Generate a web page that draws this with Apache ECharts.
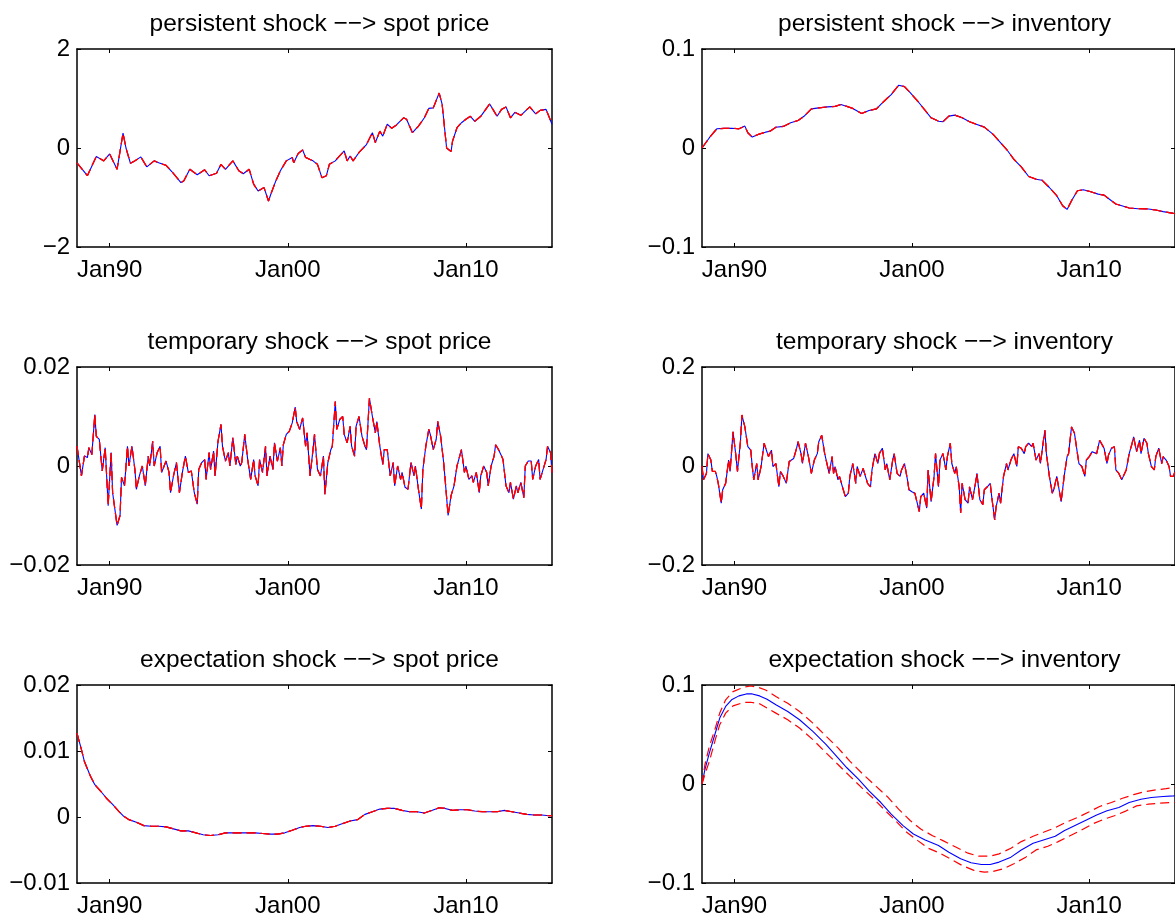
<!DOCTYPE html>
<html>
<head>
<meta charset="utf-8">
<script src="https://cdn.jsdelivr.net/npm/echarts@6/dist/echarts.min.js"></script>
<style>
html,body{margin:0;padding:0;background:#fff;}
#chart{width:1175px;height:921px;}
</style>
</head>
<body>
<div id="chart"></div>
<script>
// x values are months since Jan 1988 (monthly data, Mar 1988 .. Nov 2014)
const xTickMonths = [24, 144, 264];
const xTickLabels = ['Jan90', 'Jan00', 'Jan10'];

const titles = [
  'persistent shock \u2212\u2212> spot price',
  'persistent shock \u2212\u2212> inventory',
  'temporary shock \u2212\u2212> spot price',
  'temporary shock \u2212\u2212> inventory',
  'expectation shock \u2212\u2212> spot price',
  'expectation shock \u2212\u2212> inventory'
];

// y-axis ranges [min, max, interval]
const yRanges = [
  [-2, 2, 2], [-0.1, 0.1, 0.1],
  [-0.02, 0.02, 0.02], [-0.2, 0.2, 0.2],
  [-0.01, 0.02, 0.01], [-0.1, 0.1, 0.1]
];

// median responses [month, value]
const persistSpot = [[2,-0.30],[9,-0.56],[15,-0.17],[20,-0.26],[24,-0.12],[29,-0.43],[33,0.30],[35,0.0],[38,-0.31],[41,-0.26],[45,-0.18],[49,-0.38],[54,-0.26],[57,-0.30],[62,-0.35],[66,-0.48],[72,-0.70],[74,-0.66],[78,-0.43],[83,-0.54],[88,-0.44],[91,-0.56],[96,-0.51],[99,-0.33],[102,-0.43],[107,-0.26],[111,-0.46],[114,-0.52],[118,-0.43],[121,-0.73],[124,-0.87],[128,-0.80],[131,-1.07],[133,-0.90],[136,-0.66],[139,-0.46],[143,-0.26],[147,-0.19],[148,-0.30],[151,-0.11],[154,-0.04],[156,-0.19],[161,-0.26],[164,-0.33],[167,-0.60],[170,-0.56],[172,-0.33],[176,-0.26],[178,-0.19],[182,-0.06],[184,-0.26],[186,-0.16],[188,-0.26],[192,-0.09],[197,0.07],[201,0.31],[203,0.11],[206,0.34],[208,0.24],[211,0.48],[214,0.40],[217,0.46],[222,0.61],[224,0.58],[228,0.31],[232,0.44],[236,0.61],[239,0.80],[242,0.81],[246,1.11],[248,0.88],[251,0.0],[254,-0.07],[255,0.14],[258,0.41],[261,0.51],[264,0.58],[267,0.64],[270,0.54],[274,0.64],[280,0.89],[283,0.74],[285,0.64],[288,0.78],[291,0.83],[294,0.61],[297,0.72],[301,0.66],[307,0.83],[311,0.69],[314,0.76],[318,0.78],[322,0.48]];

const persistInv = [[2,0],[7,0.0104],[12,0.0194],[17,0.0198],[22,0.020],[27,0.0194],[31,0.0221],[33,0.0154],[36,0.011],[40,0.0137],[45,0.016],[48,0.017],[52,0.021],[57,0.0218],[62,0.0255],[67,0.0278],[71,0.032],[76,0.0395],[81,0.0405],[87,0.0415],[92,0.042],[96,0.0439],[100,0.042],[104,0.040],[110,0.0348],[115,0.0379],[120,0.0395],[125,0.047],[130,0.054],[135,0.0633],[139,0.062],[143,0.0556],[148,0.0472],[153,0.0379],[157,0.0305],[162,0.0271],[165,0.0265],[169,0.0322],[173,0.0332],[178,0.0305],[183,0.0265],[188,0.0238],[193,0.0211],[199,0.0137],[203,0.007],[208,-0.0013],[213,-0.0114],[218,-0.019],[223,-0.0288],[228,-0.0315],[232,-0.0325],[237,-0.0399],[242,-0.0482],[246,-0.0583],[249,-0.062],[252,-0.0533],[256,-0.0432],[260,-0.0422],[265,-0.0442],[270,-0.0466],[274,-0.0476],[279,-0.0533],[282,-0.0566],[286,-0.0583],[291,-0.0606],[297,-0.0613],[304,-0.0616],[309,-0.0626],[314,-0.0643],[321,-0.066],[322,-0.0662]];

const tempSpot = [[2,0.004],[3,0.002],[5,-0.002],[7,0.002],[9,0.0017],[10,0.0037],[12,0.0023],[14,0.0104],[15,0.006],[17,0.0054],[19,-0.001],[21,0.0037],[23,-0.008],[25,0.0027],[26,-0.0054],[29,-0.012],[31,-0.010],[32,-0.0023],[34,-0.004],[36,0.004],[37,0],[39,0.004],[41,-0.0007],[42,-0.0047],[44,-0.002],[46,0],[48,-0.004],[50,0.002],[51,0],[53,0.005],[54,0],[56,0.0027],[58,0.004],[59,-0.0013],[62,0.001],[64,-0.0013],[65,-0.0054],[67,-0.002],[69,0.0007],[71,-0.0054],[73,-0.0013],[75,0.002],[77,-0.0013],[79,-0.001],[81,-0.0054],[83,-0.0077],[84,-0.0007],[86,0.0007],[88,0.0013],[89,-0.0027],[91,0.0027],[92,-0.0007],[94,0.003],[95,-0.002],[97,0.005],[99,0.0084],[100,0.004],[102,0.001],[104,0.0027],[105,0],[107,0.0057],[109,0.0003],[110,0.002],[112,0],[113,0.0007],[115,0.0064],[117,0.0013],[119,-0.0027],[121,0.0013],[122,-0.002],[124,-0.004],[125,0.0013],[127,-0.0013],[129,0.004],[130,-0.002],[132,0.002],[134,-0.0007],[135,0.0047],[137,0.001],[139,0.0037],[140,0],[141,0.0043],[143,0.0064],[145,0.007],[147,0.0087],[149,0.0119],[150,0.009],[152,0.0074],[154,0.0097],[156,0.004],[157,0.0067],[159,-0.002],[161,0.0033],[162,0.0064],[164,-0.0007],[166,-0.002],[168,0.002],[169,-0.0057],[171,0.0007],[173,0.0033],[174,0.004],[176,0.013],[177,0.0074],[179,0.0094],[181,0.01],[182,0.0064],[184,0.0047],[186,0.008],[187,0.004],[189,0.002],[190,0.008],[192,0.01],[194,0.006],[196,0.004],[197,0.0033],[199,0.0137],[201,0.01],[203,0.0067],[204,0.009],[206,0.004],[208,0.0003],[209,0.0033],[211,0.0033],[213,-0.002],[215,0.0007],[216,-0.004],[218,0],[220,-0.0027],[221,-0.0013],[223,-0.0043],[225,-0.0047],[227,0.0007],[229,-0.002],[230,0],[232,-0.0047],[234,-0.0087],[235,-0.0007],[237,0.004],[239,0.0074],[240,0.0064],[242,0.0033],[244,0.0054],[245,0.009],[247,0.006],[249,0.0007],[250,-0.0027],[252,-0.010],[254,-0.006],[256,-0.004],[258,0],[259,-0.0003],[261,0.0033],[263,-0.0013],[264,0],[266,-0.0027],[268,-0.002],[269,-0.0033],[271,-0.0013],[273,-0.0054],[274,-0.002],[276,0],[278,-0.0013],[279,-0.004],[281,0],[283,0.002],[284,0.0043],[286,0.0033],[288,0.002],[289,0.0013],[291,-0.004],[293,-0.0054],[294,-0.0033],[296,-0.0067],[298,-0.004],[299,-0.0054],[301,-0.0033],[303,-0.0064],[304,0],[306,0.001],[308,0.001],[309,-0.0027],[311,0],[313,0.0013],[314,-0.0027],[316,-0.0007],[318,0.0013],[319,0.004],[321,0.0027],[322,-0.0013]];

const tempInv = [[2,0],[3,-0.028],[5,-0.015],[6,0.025],[8,0.012],[9,-0.011],[11,-0.011],[12,-0.021],[13,-0.035],[15,-0.075],[16,-0.048],[18,-0.035],[20,0.012],[21,-0.011],[23,0.069],[25,0.019],[26,-0.011],[28,0.049],[29,0.103],[31,0.079],[33,0.039],[35,0.032],[36,-0.001],[37,-0.028],[39,0.005],[40,-0.028],[42,-0.001],[44,0.046],[45,0.042],[47,0.019],[49,0.032],[50,-0.001],[52,0.005],[54,-0.042],[55,-0.011],[57,-0.021],[59,-0.035],[61,0.009],[62,0.005],[64,0.015],[66,0.036],[67,0.049],[69,0.025],[70,0.005],[72,0.046],[74,0.019],[76,-0.015],[78,0.012],[80,0.025],[81,0.049],[83,0.062],[85,0.025],[86,0.012],[88,-0.015],[90,0.019],[91,-0.015],[92,-0.001],[94,-0.028],[95,-0.021],[97,-0.042],[99,-0.062],[101,-0.055],[102,-0.021],[104,0.005],[106,-0.035],[107,-0.001],[109,-0.021],[111,-0.005],[112,-0.008],[114,-0.035],[116,-0.042],[117,-0.008],[119,0.025],[121,0.005],[122,0.025],[124,0.036],[126,-0.008],[127,0.005],[129,-0.028],[131,0.012],[132,0.025],[134,-0.015],[136,-0.021],[137,-0.008],[139,0.005],[141,-0.028],[142,-0.048],[144,-0.052],[146,-0.055],[147,-0.055],[149,-0.092],[150,-0.062],[152,-0.055],[154,-0.085],[155,-0.008],[157,-0.072],[159,-0.021],[160,0.025],[162,-0.042],[163,0.012],[165,0.025],[167,-0.008],[168,0.019],[170,0.046],[171,0.005],[173,-0.015],[174,-0.001],[176,-0.042],[177,-0.095],[178,-0.035],[180,-0.068],[182,-0.075],[183,-0.042],[185,-0.068],[187,-0.035],[188,-0.015],[190,-0.068],[192,-0.078],[193,-0.048],[195,-0.042],[197,-0.035],[198,-0.062],[200,-0.109],[201,-0.082],[203,-0.055],[204,-0.075],[206,-0.021],[208,0.005],[209,-0.008],[211,0.012],[213,0.025],[215,-0.001],[216,0.039],[218,0.036],[220,0.025],[221,0.039],[223,0.046],[225,0.039],[226,0.046],[228,0.012],[230,0.025],[231,0.005],[233,0.052],[234,0.072],[235,0.025],[237,-0.021],[239,-0.055],[240,-0.048],[242,-0.021],[244,-0.055],[245,-0.072],[247,-0.021],[249,0.019],[250,0.025],[252,0.079],[254,0.066],[256,0.025],[257,0.005],[259,-0.001],[261,-0.021],[262,0.012],[264,0.019],[266,0.029],[267,0.032],[269,0.025],[271,0.052],[272,0.052],[274,0.036],[276,0.005],[277,0.022],[279,0.036],[281,0.039],[282,-0.008],[284,-0.015],[286,-0.028],[287,-0.021],[289,-0.008],[291,0.025],[293,0.046],[294,0.059],[296,0.029],[298,0.052],[299,0.025],[301,0.056],[303,0.046],[304,0.025],[306,-0.001],[308,-0.008],[309,0.019],[311,0.036],[313,0.005],[314,0.019],[316,0.012],[318,-0.001],[319,-0.021],[321,-0.021],[322,-0.01]];

const expectSpot = [[2,0.0127],[5,0.0102],[7,0.0084],[11,0.0062],[14,0.0049],[18,0.0039],[22,0.0028],[26,0.0019],[30,0.0009],[33,0.0002],[37,-0.0004],[42,-0.0008],[47,-0.0013],[52,-0.0014],[57,-0.0014],[62,-0.0015],[67,-0.0018],[72,-0.0021],[77,-0.0021],[82,-0.0024],[87,-0.0027],[92,-0.0028],[97,-0.0027],[102,-0.0024],[107,-0.0024],[112,-0.0024],[117,-0.0024],[122,-0.0024],[127,-0.0025],[132,-0.0026],[137,-0.0026],[142,-0.0024],[147,-0.002],[152,-0.0016],[156,-0.0014],[161,-0.0013],[166,-0.0014],[171,-0.0016],[176,-0.0014],[181,-0.001],[186,-0.0006],[191,-0.0004],[196,0.0004],[201,0.0008],[206,0.0012],[211,0.0013],[216,0.0013],[221,0.001],[226,0.0008],[231,0.0008],[236,0.0006],[241,0.001],[246,0.0014],[250,0.0013],[255,0.001],[260,0.0011],[265,0.0011],[270,0.0009],[275,0.0008],[280,0.0008],[285,0.0008],[290,0.001],[295,0.0008],[300,0.0006],[305,0.0004],[310,0.0003],[315,0.0003],[320,0.0002],[322,0.0002]];

const expectInv = [[2,0],[4,0.0147],[7,0.0314],[11,0.0515],[14,0.0666],[18,0.0783],[22,0.085],[27,0.089],[32,0.091],[36,0.091],[41,0.089],[46,0.0856],[52,0.080],[60,0.0732],[68,0.0649],[77,0.0532],[86,0.0398],[94,0.0264],[100,0.0164],[108,0.0047],[115,-0.007],[123,-0.0187],[130,-0.0304],[138,-0.0421],[145,-0.0505],[153,-0.0565],[162,-0.0622],[169,-0.0689],[177,-0.0756],[184,-0.0796],[191,-0.0813],[197,-0.0813],[203,-0.0789],[211,-0.0739],[218,-0.0666],[226,-0.0599],[233,-0.0565],[241,-0.0528],[247,-0.0472],[254,-0.0421],[261,-0.0371],[269,-0.0314],[276,-0.0271],[284,-0.0237],[291,-0.0187],[299,-0.0154],[306,-0.0137],[314,-0.0127],[321,-0.012],[322,-0.0118]];

// error bands (red dashed) for the expectation shock -> inventory panel
const expectInvUpper = [[2,0],[4,0.0197],[7,0.038],[11,0.0565],[14,0.0716],[18,0.085],[23,0.0933],[30,0.0977],[35,0.099],[40,0.0977],[45,0.095],[52,0.0883],[60,0.0816],[68,0.0732],[77,0.0615],[86,0.0482],[94,0.0365],[102,0.0231],[111,0.0097],[119,-0.0013],[128,-0.0137],[135,-0.0254],[143,-0.0371],[150,-0.0455],[158,-0.0522],[165,-0.0572],[174,-0.0639],[182,-0.0699],[189,-0.0729],[197,-0.0729],[203,-0.0706],[211,-0.0649],[218,-0.0582],[226,-0.0528],[233,-0.0488],[241,-0.0441],[248,-0.0388],[256,-0.0338],[264,-0.0281],[271,-0.0227],[279,-0.0187],[286,-0.0147],[294,-0.0107],[301,-0.008],[309,-0.006],[316,-0.0047],[321,-0.0037],[322,-0.0035]];
const expectInvLower = [[2,0],[4,0.0097],[7,0.0231],[11,0.0448],[14,0.0599],[18,0.0716],[23,0.0789],[30,0.0823],[35,0.0826],[41,0.081],[46,0.0766],[52,0.0716],[60,0.0649],[68,0.0565],[77,0.0448],[86,0.0314],[94,0.0197],[102,0.008],[110,-0.0037],[118,-0.0147],[125,-0.0254],[133,-0.0371],[140,-0.0482],[148,-0.0572],[155,-0.0649],[163,-0.0699],[170,-0.0756],[178,-0.0823],[186,-0.0873],[193,-0.089],[199,-0.0883],[206,-0.0856],[213,-0.0806],[221,-0.0739],[228,-0.0666],[236,-0.0629],[243,-0.0582],[251,-0.0522],[258,-0.0472],[266,-0.0405],[274,-0.0355],[281,-0.0321],[289,-0.0271],[296,-0.0221],[304,-0.0204],[311,-0.0194],[321,-0.0187],[322,-0.0187]];

// panels: median, upper band, lower band (bands visually coincide with the median where not given separately)
const medians = [persistSpot, persistInv, tempSpot, tempInv, expectSpot, expectInv];
const uppers  = [persistSpot, persistInv, tempSpot, tempInv, expectSpot, expectInvUpper];
const lowers  = [persistSpot, persistInv, tempSpot, tempInv, expectSpot, expectInvLower];

const FONT = "'Liberation Sans', Arial, Helvetica, sans-serif";
const gridLefts = [77, 702];
const gridTops = [49, 367, 685];
const GW = 475, GH = 198;
const titleTops = [7, 325, 643];

function fmtY(v) {
  const r = Number(Number(v).toPrecision(6));
  if (r === 0) return '0';
  return r < 0 ? '\u2212' + String(-r) : String(r);
}

const grids = [], xAxes = [], yAxes = [], series = [], titleArr = [];
for (let i = 0; i < 6; i++) {
  const col = i % 2, row = Math.floor(i / 2);
  grids.push({left: gridLefts[col], top: gridTops[row], width: GW, height: GH, containLabel: false});
  titleArr.push({
    text: titles[i], left: gridLefts[col] + GW / 2, top: titleTops[row], textAlign: 'center',
    textStyle: {fontFamily: FONT, fontSize: 24.5, fontWeight: 'normal', color: '#000'}
  });
  const lineStyle = {color: '#000', width: 1.5};
  const tickStyle = {color: '#000', width: 1};
  const xBase = {
    type: 'value', gridIndex: i, min: 2, max: 322,
    splitLine: {show: false},
    axisLine: {show: true, onZero: false, lineStyle},
    axisTick: {show: true, inside: true, length: 4, customValues: xTickMonths, lineStyle: tickStyle}
  };
  xAxes.push(Object.assign({}, xBase, {
    position: 'bottom',
    axisLabel: {
      show: true, customValues: xTickMonths, margin: 11,
      fontFamily: FONT, fontSize: 24, color: '#000',
      formatter: v => xTickLabels[xTickMonths.indexOf(Math.round(v))] || ''
    }
  }));
  xAxes.push(Object.assign({}, xBase, {position: 'top', axisLabel: {show: false}}));
  const [ymin, ymax, yint] = yRanges[i];
  const yBase = {
    type: 'value', gridIndex: i, min: ymin, max: ymax, interval: yint,
    splitLine: {show: false},
    axisLine: {show: true, onZero: false, lineStyle},
    axisTick: {show: true, inside: true, length: 4, lineStyle: tickStyle}
  };
  yAxes.push(Object.assign({}, yBase, {
    position: 'left',
    axisLabel: {show: true, margin: 7, fontFamily: FONT, fontSize: 24, color: '#000', formatter: fmtY}
  }));
  yAxes.push(Object.assign({}, yBase, {position: 'right', axisLabel: {show: false}}));

  const xi = 2 * i, yi = 2 * i;
  series.push({
    type: 'line', xAxisIndex: xi, yAxisIndex: yi, data: medians[i], showSymbol: false,
    symbol: 'none', silent: true, clip: true, z: 2,
    lineStyle: {color: '#0000ff', width: 1.1}
  });
  [uppers[i], lowers[i]].forEach(d => {
    series.push({
      type: 'line', xAxisIndex: xi, yAxisIndex: yi, data: d, showSymbol: false,
      symbol: 'none', silent: true, clip: true, z: 3,
      lineStyle: {color: '#ff0000', width: 1.2, type: [9, 5]}
    });
  });
}

const chart = echarts.init(document.getElementById('chart'), null, {renderer: 'canvas'});
chart.setOption({
  backgroundColor: '#fff',
  animation: false,
  title: titleArr,
  grid: grids,
  xAxis: xAxes,
  yAxis: yAxes,
  series: series
});
</script>
</body>
</html>
